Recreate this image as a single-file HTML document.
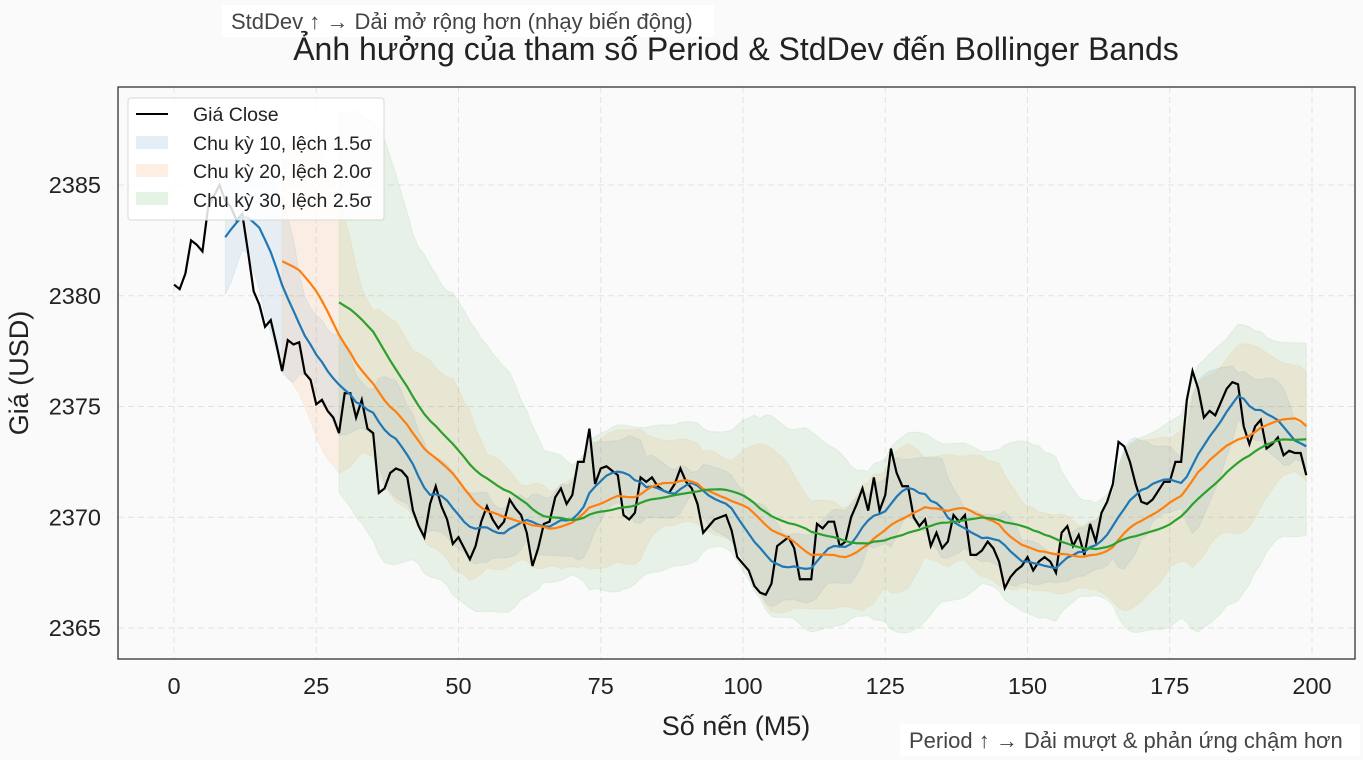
<!DOCTYPE html>
<html><head><meta charset="utf-8"><style>
html,body{margin:0;padding:0;background:#fafafa;}
svg{display:block;font-family:"Liberation Sans","DejaVu Sans",sans-serif;}
</style></head><body>
<svg id="s" width="1363" height="760" xmlns="http://www.w3.org/2000/svg">
<rect width="1363" height="760" fill="#fafafa"/>
<rect x="118" y="87" width="1237" height="572" fill="#fafafa"/>
<g id="grid" stroke="#e2e2e2" stroke-width="1" stroke-dasharray="6,4"></g>
<g id="bands"></g>
<g id="lines" fill="none" stroke-width="2.2"></g>
<rect x="118" y="87" width="1237" height="572" fill="none" stroke="#333" stroke-width="1.3"/>
<g id="ticks" font-size="23.5" fill="#222"></g>
<text x="736" y="735" font-size="27" text-anchor="middle" fill="#222">Số nến (M5)</text>
<text x="28" y="373" font-size="27" text-anchor="middle" fill="#222" transform="rotate(-90 28 373)">Giá (USD)</text>
<rect x="222" y="5" width="492" height="32" fill="#fff" opacity="0.85"/>
<text x="231" y="29" font-size="22" fill="#444">StdDev ↑ → Dải mở rộng hơn (nhạy biến động)</text>
<text x="736" y="60" font-size="32" text-anchor="middle" fill="#222">Ảnh hưởng của tham số Period &amp; StdDev đến Bollinger Bands</text>
<rect x="900" y="724" width="460" height="32" fill="#fff" opacity="0.85"/>
<text x="909" y="748" font-size="22" fill="#444">Period ↑ → Dải mượt &amp; phản ứng chậm hơn</text>
<g id="legend">
<rect x="128" y="98" width="256" height="122" rx="3" fill="#fff" fill-opacity="0.85" stroke="#d8d8d8"/>
<line x1="136" y1="114" x2="168" y2="114" stroke="#000" stroke-width="2"/>
<rect x="136" y="136" width="32" height="13" fill="#1f77b4" fill-opacity="0.12"/>
<rect x="136" y="164" width="32" height="13" fill="#ff7f0e" fill-opacity="0.12"/>
<rect x="136" y="192" width="32" height="13" fill="#2ca02c" fill-opacity="0.12"/>
<g font-size="19.5" fill="#222">
<text x="193" y="121">Giá Close</text>
<text x="193" y="150">Chu kỳ 10, lệch 1.5σ</text>
<text x="193" y="178">Chu kỳ 20, lệch 2.0σ</text>
<text x="193" y="207">Chu kỳ 30, lệch 2.5σ</text>
</g></g>
</svg>
<script>
var c=[2380.5,2380.3,2381,2382.5,2382.3,2382,2384,2384.5,2385,2384.3,2384,2383.4,2383.7,2382,2380.2,2379.6,2378.6,2378.9,2377.8,2376.6,2378,2377.8,2377.9,2376.5,2376.2,2375.1,2375.3,2374.8,2374.5,2373.8,2375.6,2375.6,2374.5,2375.3,2374,2373.8,2371.1,2371.3,2372,2372.2,2372.1,2371.8,2370.3,2369.6,2369.1,2370.6,2371.4,2370.5,2369.9,2368.8,2369.1,2368.6,2368.1,2368.7,2369.8,2370.5,2369.9,2369.5,2369.8,2370.8,2370.4,2370.1,2369.3,2367.8,2368.6,2369.7,2369.8,2370.9,2371.3,2370.6,2371,2372.5,2372.5,2374,2371.5,2372.2,2372.3,2372.1,2371.9,2370.1,2369.9,2370.2,2371.8,2371.6,2371.8,2371.4,2371.2,2371.1,2371.5,2372.2,2371.6,2371.3,2370.6,2369.3,2369.6,2369.9,2370,2370.1,2369.4,2368.2,2367.9,2367.6,2366.9,2366.6,2366.5,2367,2368.7,2368.9,2369.1,2368.6,2367.2,2367.2,2367.2,2369.7,2369.5,2369.8,2369.8,2368.7,2368.9,2370,2370.6,2371.3,2370.3,2371.8,2370.3,2371,2373.1,2372,2371.4,2371.4,2370,2369.6,2369.9,2368.7,2369.3,2368.6,2368.9,2370.1,2369.8,2370.1,2368.3,2368.3,2368.5,2368.9,2368.6,2368,2366.8,2367.3,2367.6,2367.8,2368.2,2367.6,2368,2368.2,2368,2367.5,2369.3,2369.6,2368.7,2369.2,2368.3,2369.7,2368.9,2370.2,2370.7,2371.5,2373.4,2373.2,2372.5,2371.5,2370.7,2370.6,2370.8,2371.2,2371.6,2371.6,2372.5,2372.5,2375.3,2376.6,2375.8,2374.5,2374.8,2374.6,2375.2,2375.8,2376.1,2376,2374.1,2373.3,2374.1,2374.4,2373.1,2373.3,2373.6,2372.8,2373,2372.9,2372.9,2371.9];
function X(i){return 174+i*5.69}
function Y(v){return 185+(2385-v)*22.15}
var NS="http://www.w3.org/2000/svg";
function el(p,t,a){var e=document.createElementNS(NS,t);for(var k in a)e.setAttribute(k,a[k]);p.appendChild(e);return e}
var g=document.getElementById('grid'),tk=document.getElementById('ticks');
for(var i=0;i<=200;i+=25){var x=X(i);el(g,'line',{x1:x,y1:87,x2:x,y2:659});var t=el(tk,'text',{x:x,y:694,'text-anchor':'middle'});t.textContent=i;}
for(var v=2365;v<=2385;v+=5){var y=Y(v);el(g,'line',{x1:118,y1:y,x2:1355,y2:y});var t=el(tk,'text',{x:101,y:y+8,'text-anchor':'end'});t.textContent=v;}
var cfg=[[10,1.5,'#1f77b4'],[20,2.0,'#ff7f0e'],[30,2.5,'#2ca02c']];
var B=document.getElementById('bands'),L=document.getElementById('lines');
var mids=[];
cfg.forEach(function(f){var n=f[0],k=f[1];var up=[],lo=[],md=[];
for(var i=n-1;i<c.length;i++){var s=0;for(var j=i-n+1;j<=i;j++)s+=c[j];var m=s/n;var q=0;for(var j=i-n+1;j<=i;j++)q+=(c[j]-m)*(c[j]-m);var sd=Math.sqrt(q/(n-1));
up.push(X(i)+','+Y(m+k*sd));lo.push(X(i)+','+Y(m-k*sd));md.push(X(i)+','+Y(m));}
el(B,'polygon',{points:up.concat(lo.reverse()).join(' '),fill:f[2],'fill-opacity':0.09,stroke:f[2],'stroke-opacity':0.08});
mids.push([md,f[2]]);});
var p=[];for(var i=0;i<c.length;i++)p.push(X(i)+','+Y(c[i]));
el(L,'polyline',{points:p.join(' '),stroke:'#000'});
mids.forEach(function(m){el(L,'polyline',{points:m[0].join(' '),stroke:m[1]})});
</script>
</body></html>
